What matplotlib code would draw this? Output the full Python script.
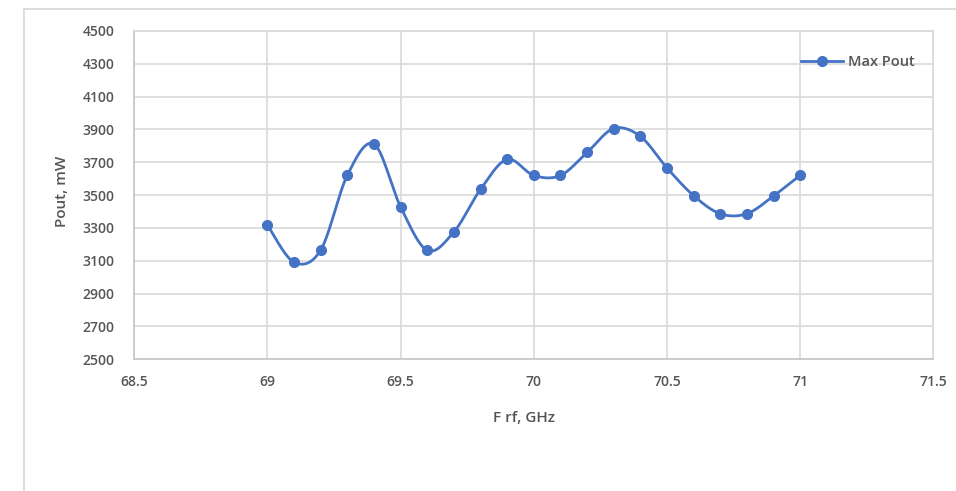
import numpy as np
import matplotlib
matplotlib.use("Agg")
import matplotlib.pyplot as plt
from matplotlib.lines import Line2D

# Data
freq_ghz = [69.0, 69.1, 69.2, 69.3, 69.4, 69.5, 69.6, 69.7, 69.8, 69.9, 70.0,
            70.1, 70.2, 70.3, 70.4, 70.5, 70.6, 70.7, 70.8, 70.9, 71.0]
max_pout = [3318, 3091, 3166, 3622, 3811, 3428, 3164, 3276, 3536, 3718, 3620,
            3620, 3760, 3906, 3858, 3666, 3497, 3387, 3387, 3495, 3621]
xticks = [68.5, 69, 69.5, 70, 70.5, 71, 71.5]
xticklabels = ["68.5", "69", "69.5", "70", "70.5", "71", "71.5"]
yticks = list(range(2500, 4501, 200))
series_name = "Max Pout"
xlabel = "F rf, GHz"
ylabel = "Pout, mW"

plt.rcParams['font.family'] = ['Open Sans', 'DejaVu Sans']
color = '#4472C4'
txt = '#555555'
grid_c = '#d9d9d9'
W = 'semibold'


def smooth(xs, ys, n=30):
    # Catmull-Rom style Bezier smoothing (like Excel's smoothed line)
    x = np.asarray(xs, float)
    y = np.asarray(ys, float)
    P = np.column_stack([x, y])
    out = []
    for i in range(len(P) - 1):
        p0 = P[i - 1] if i > 0 else P[i]
        p1 = P[i]
        p2 = P[i + 1]
        p3 = P[i + 2] if i + 2 < len(P) else P[i + 1]
        c1 = p1 + (p2 - p0) / 6.0
        c2 = p2 - (p3 - p1) / 6.0
        t = np.linspace(0, 1, n)[:, None]
        seg = ((1 - t) ** 3) * p1 + 3 * ((1 - t) ** 2) * t * c1 + 3 * (1 - t) * t ** 2 * c2 + t ** 3 * p2
        if i > 0:
            seg = seg[1:]
        out.append(seg)
    out = np.vstack(out)
    return out[:, 0], out[:, 1]


fig = plt.figure(figsize=(9.56, 4.91), dpi=100)
ax = fig.add_axes([134.3 / 956, 1 - 359.3 / 491, (933.3 - 134.3) / 956, (359.3 - 31) / 491])

sx, sy = smooth(freq_ghz, max_pout)
ax.plot(sx, sy, color=color, lw=2.0, solid_capstyle='round', zorder=3)
ax.plot(freq_ghz, max_pout, 'o', color=color, ms=7, zorder=4)

ax.set_xlim(68.5, 71.5)
ax.set_ylim(2500, 4500)
ax.set_xticks(xticks)
ax.set_xticklabels(xticklabels, fontweight=W)
ax.set_yticks(yticks)
ax.set_yticklabels([str(v) for v in yticks], fontweight=W)
ax.grid(True, color=grid_c, lw=1.2, zorder=0)
ax.set_axisbelow(True)
for s in ['top', 'right']:
    ax.spines[s].set_color(grid_c)
    ax.spines[s].set_linewidth(1.2)
for s in ['left', 'bottom']:
    ax.spines[s].set_color('#c8c8c8')
    ax.spines[s].set_linewidth(1.3)
ax.tick_params(axis='both', length=0, colors=txt, labelsize=10)
ax.tick_params(axis='y', pad=14)
ax.tick_params(axis='x', pad=11)

ax.set_xlabel(xlabel, color=txt, fontsize=11, fontweight=W)
ax.xaxis.set_label_coords((524 - 134.3) / 799, -(418 - 359.3) / 328.3)
ax.xaxis.label.set_va('center')
ax.set_ylabel(ylabel, color=txt, fontsize=11, fontweight=W)
ax.yaxis.set_label_coords((62 - 134.3) / 799, (359.3 - 191) / 328.3)
ax.yaxis.label.set_va('center')

h = Line2D([], [], color=color, lw=2.0, marker='o', ms=7)
fig.legend([h], [series_name], loc='center left', bbox_to_anchor=(801 / 956, 1 - 62 / 491),
           frameon=False, handlelength=2.9, handletextpad=0.3,
           borderpad=0, borderaxespad=0, labelcolor=txt,
           prop={'size': 10.5, 'weight': W})

# outer chart border (partially visible)
fig.add_artist(Line2D([24 / 956, 1.0], [1 - 9.3 / 491, 1 - 9.3 / 491], transform=fig.transFigure,
                      color=grid_c, lw=1.3))
fig.add_artist(Line2D([24 / 956, 24 / 956], [0, 1 - 9.3 / 491], transform=fig.transFigure,
                      color=grid_c, lw=1.3))

fig.savefig('out.png', dpi=100)
